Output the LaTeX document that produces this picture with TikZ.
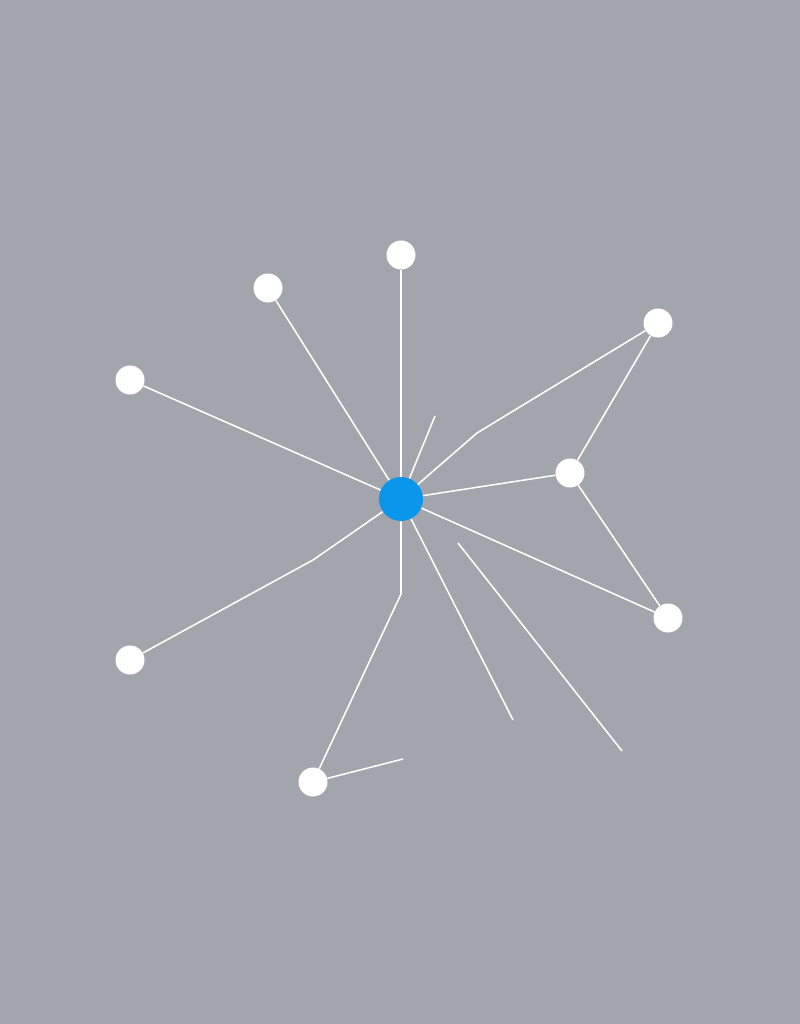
\documentclass[tikz,border=0pt]{standalone}
\usepackage{tikz}

\definecolor{bggray}{HTML}{A2A5AB}
\definecolor{hubblue}{HTML}{0A96EA}

\tikzset{
    leaf/.style={circle,fill=white,inner sep=0pt,minimum size=29\unitpx},
    hub/.style={circle,fill=hubblue,inner sep=0pt,minimum size=44\unitpx},
    link/.style={white,line width=1.1pt}
}
\newcommand{\unitpx}{*0.025cm}

\begin{document}
\begin{tikzpicture}[x=0.025cm,y=-0.025cm]
        % Draw background
        \fill[bggray] (0,0) rectangle (800,1024);
        \useasboundingbox (0,0) rectangle (800,1024);

        % Draw nodes
        \node[hub] (hub) at (401,499) {};
        \node[leaf] (top) at (401,255) {};
        \node[leaf] (upleft) at (268,288) {};
        \node[leaf] (left) at (130,380) {};
        \node[leaf] (upright) at (658,323) {};
        \node[leaf] (right) at (570,473) {};
        \node[leaf] (lowright) at (668,618) {};
        \node[leaf] (lowleft) at (130,660) {};
        \node[leaf] (bottom) at (313,782) {};

        % Bends and loose ends
        \coordinate (bendur) at (477,433);
        \coordinate (bendll) at (313,560);
        \coordinate (bendb) at (401,594);
        \coordinate (stubup) at (435,416);
        \coordinate (stubdown) at (513,720);
        \coordinate (stubbot) at (403,759);
        \coordinate (freea) at (458,543);
        \coordinate (freeb) at (622,751);

        % Draw links
        \draw[link] (hub) -- (top);
        \draw[link] (hub) -- (upleft);
        \draw[link] (hub) -- (left);
        \draw[link] (hub) -- (bendur) -- (upright);
        \draw[link] (hub) -- (stubup);
        \draw[link] (hub) -- (right);
        \draw[link] (right) -- (upright);
        \draw[link] (right) -- (lowright);
        \draw[link] (hub) -- (lowright);
        \draw[link] (hub) -- (bendll) -- (lowleft);
        \draw[link] (hub) -- (bendb) -- (bottom);
        \draw[link] (bottom) -- (stubbot);
        \draw[link] (hub) -- (stubdown);
        \draw[link] (freea) -- (freeb);
    \end{tikzpicture}
\end{document}
